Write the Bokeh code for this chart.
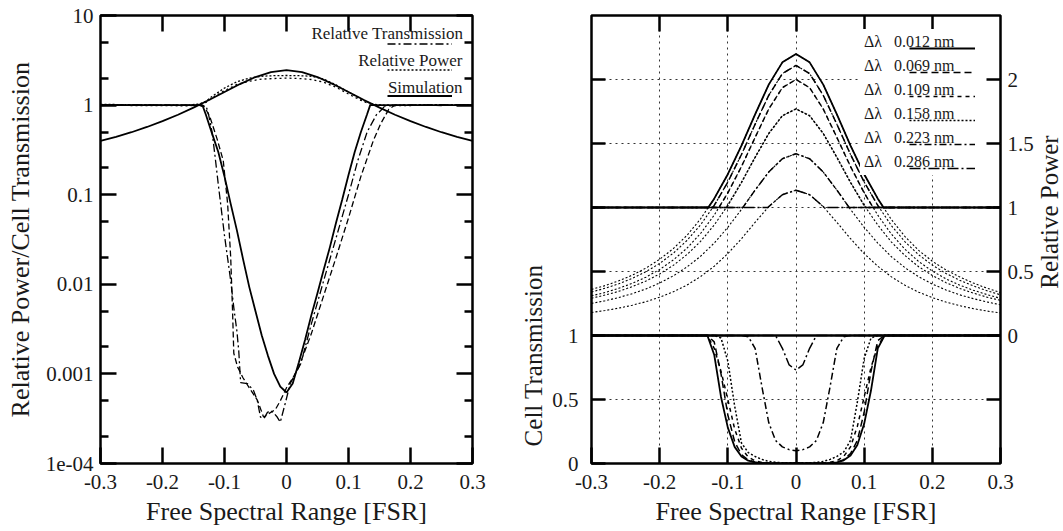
import math
from bokeh.plotting import figure
from bokeh.models import (FixedTicker, LinearAxis, LogAxis, Legend, Label, Span, Range1d,
                          CustomJSTickFormatter)
from bokeh.layouts import row
from bokeh.embed import file_html
from bokeh.resources import INLINE

FONT = "Liberation Serif"
TXT = "#1a1a1a"

# ---------------- data: left panel (log scale) ----------------
x_ticks = [-0.3, -0.2, -0.1, 0, 0.1, 0.2, 0.3]
x_tick_labels = ["-0.3", "-0.2", "-0.1", "0", "0.1", "0.2", "0.3"]
x_inner_ticks = [-0.2, -0.1, 0, 0.1, 0.2]
left_y_ticks = [1e-4, 1e-3, 1e-2, 1e-1, 1, 10]
left_y_tick_labels = ["1e-04", "0.001", "0.01", "0.1", "1", "10"]
left_y_minor = [2e-4, 5e-4, 2e-3, 5e-3, 2e-2, 5e-2, 0.2, 0.5, 2, 5]
left_legend_labels = ["Relative Transmission", "Relative Power", "Simulation"]

x_sim = [-0.3, -0.275, -0.25, -0.225, -0.2, -0.175, -0.15, -0.125, -0.1, -0.075, -0.05, -0.025, 0,
         0.025, 0.05, 0.075, 0.1, 0.125, 0.15, 0.175, 0.2, 0.225, 0.25, 0.275, 0.3]
sim_power = [0.40, 0.443, 0.498, 0.570, 0.663, 0.781, 0.937, 1.141, 1.402, 1.717, 2.056, 2.337, 2.45,
             2.337, 2.056, 1.717, 1.402, 1.141, 0.937, 0.781, 0.663, 0.570, 0.498, 0.443, 0.40]

x_sim_t = [-0.3, -0.2, -0.14, -0.135, -0.13, -0.12, -0.11, -0.1, -0.09, -0.08, -0.07, -0.06, -0.05,
           -0.04, -0.03, -0.02, -0.01, 0, 0.01, 0.02, 0.03, 0.04, 0.05, 0.06, 0.07, 0.08, 0.09, 0.1,
           0.11, 0.12, 0.13, 0.135, 0.14, 0.2, 0.3]
sim_trans = [1, 1, 1, 0.97, 0.78, 0.48, 0.30, 0.16, 0.079, 0.040, 0.019, 0.0093, 0.0050,
             0.0027, 0.0016, 0.0010, 0.00072, 0.00062, 0.00078, 0.00135, 0.0024, 0.0045, 0.0080, 0.0145, 0.026, 0.049, 0.089, 0.166,
             0.30, 0.50, 0.79, 1.0, 1, 1, 1]

x_meas_tA = [-0.3, -0.25, -0.2, -0.16, -0.14, -0.13, -0.127, -0.12, -0.115, -0.11, -0.1, -0.09, -0.085,
             -0.08, -0.077, -0.074, -0.063, -0.053, -0.047, -0.042, -0.036, -0.031, -0.026, -0.021,
             -0.015, -0.01, -0.002, 0.006, 0.023, 0.04, 0.06, 0.08, 0.1, 0.115, 0.13, 0.145, 0.152,
             0.16, 0.2, 0.25, 0.3]
meas_tA = [1.0, 1.01, 1.0, 1.0, 1.0, 0.97, 0.87, 0.5, 0.26, 0.13, 0.035, 0.011, 0.0055,
           0.003, 0.0018, 0.0008, 0.00078, 0.00065, 0.0005, 0.00033, 0.00032, 0.00037, 0.00039, 0.00037,
           0.00033, 0.00029, 0.00047, 0.00078, 0.0013, 0.0036, 0.011, 0.033, 0.1, 0.24, 0.5, 0.78, 0.87,
           1.0, 1.0, 1.01, 1.0]

x_meas_tB = [-0.3, -0.25, -0.2, -0.15, -0.135, -0.13, -0.123, -0.112, -0.102, -0.095, -0.09, -0.087,
             -0.085, -0.079, -0.07, -0.06, -0.047, -0.037, -0.03, -0.026, -0.018, -0.01, 0, 0.01, 0.02,
             0.04, 0.06, 0.08, 0.1, 0.12, 0.14, 0.152, 0.165, 0.175, 0.2, 0.25, 0.3]
meas_tB = [0.99, 1.0, 1.0, 0.99, 1.0, 0.9, 0.72, 0.42, 0.24, 0.08, 0.02, 0.005,
           0.0017, 0.0012, 0.0009, 0.0007, 0.00051, 0.00033, 0.00035, 0.00037, 0.0004, 0.0005, 0.0007, 0.0009, 0.0012,
           0.0028, 0.0075, 0.02, 0.055, 0.16, 0.4, 0.62, 0.9, 1.0, 1.0, 0.99, 1.0]

x_meas_p = [-0.3, -0.25, -0.2, -0.16, -0.14, -0.13, -0.12, -0.1, -0.08, -0.06, -0.04, -0.02, 0,
            0.02, 0.04, 0.06, 0.08, 0.1, 0.12, 0.13, 0.14, 0.16, 0.2, 0.25, 0.3]
meas_pA = [1.02, 1.01, 1.0, 1.0, 1.03, 1.1, 1.25, 1.55, 1.82, 2.0, 2.1, 2.13, 2.14,
           2.13, 2.1, 1.95, 1.68, 1.4, 1.17, 1.08, 1.02, 0.99, 1.0, 1.01, 1.0]
meas_pB = [1.0, 0.99, 0.99, 0.98, 1.01, 1.07, 1.2, 1.45, 1.7, 1.85, 1.95, 1.98, 2.0,
           1.98, 1.93, 1.8, 1.58, 1.33, 1.13, 1.06, 1.01, 0.98, 0.99, 1.0, 1.0]

# ---------------- data: right panel ----------------
dl_values = ["0.012", "0.069", "0.109", "0.158", "0.223", "0.286"]
power_ticks = [0, 0.5, 1, 1.5, 2]
power_tick_labels = ["0", "0.5", "1", "1.5", "2"]
trans_ticks = [0, 0.5, 1]
trans_tick_labels = ["0", "0.5", "1"]

x_pow = [-0.3, -0.28, -0.26, -0.24, -0.22, -0.2, -0.18, -0.16, -0.14, -0.12, -0.1, -0.08, -0.06, -0.04,
         -0.02, 0, 0.02, 0.04, 0.06, 0.08, 0.1, 0.12, 0.14, 0.16, 0.18, 0.2, 0.22, 0.24, 0.26, 0.28, 0.3]
pow_012 = [0.360, 0.390, 0.427, 0.472, 0.527, 0.595, 0.679, 0.782, 0.911, 1.069, 1.260, 1.483, 1.727, 1.960, 2.134,
           2.200,
           2.134, 1.960, 1.727, 1.483, 1.260, 1.069, 0.905, 0.772, 0.665, 0.580, 0.512, 0.458, 0.410, 0.370, 0.335]
pow_069 = [0.340, 0.369, 0.404, 0.447, 0.499, 0.563, 0.643, 0.742, 0.864, 1.016, 1.199, 1.414, 1.650, 1.876, 2.046,
           2.110,
           2.046, 1.876, 1.650, 1.414, 1.199, 1.016, 0.858, 0.732, 0.630, 0.550, 0.485, 0.432, 0.388, 0.350, 0.318]
pow_109 = [0.310, 0.336, 0.369, 0.408, 0.456, 0.516, 0.590, 0.682, 0.797, 0.940, 1.114, 1.320, 1.547, 1.769, 1.936,
           2.000,
           1.936, 1.769, 1.547, 1.320, 1.114, 0.940, 0.792, 0.673, 0.578, 0.503, 0.442, 0.394, 0.354, 0.320, 0.290]
pow_158 = [0.291, 0.316, 0.345, 0.382, 0.426, 0.481, 0.548, 0.632, 0.735, 0.863, 1.017, 1.196, 1.391, 1.578, 1.717,
           1.770,
           1.717, 1.578, 1.391, 1.196, 1.017, 0.863, 0.730, 0.624, 0.537, 0.469, 0.413, 0.368, 0.331, 0.300, 0.274]
pow_223 = [0.251, 0.271, 0.297, 0.327, 0.364, 0.410, 0.466, 0.535, 0.619, 0.722, 0.845, 0.985, 1.136, 1.277, 1.381,
           1.420,
           1.381, 1.277, 1.136, 0.985, 0.845, 0.722, 0.615, 0.529, 0.459, 0.402, 0.356, 0.318, 0.288, 0.262, 0.240]
pow_286 = [0.180, 0.195, 0.214, 0.237, 0.264, 0.299, 0.341, 0.394, 0.460, 0.541, 0.640, 0.756, 0.884, 1.007, 1.100,
           1.135,
           1.100, 1.007, 0.884, 0.756, 0.640, 0.541, 0.458, 0.392, 0.338, 0.296, 0.261, 0.233, 0.210, 0.191, 0.176]

x_cell = [-0.3, -0.15, -0.14, -0.13, -0.12, -0.11, -0.1, -0.09, -0.08, -0.07, -0.06, -0.05, -0.04, -0.03,
          -0.02, -0.01, 0, 0.01, 0.02, 0.03, 0.04, 0.05, 0.06, 0.07, 0.08, 0.09, 0.1, 0.11, 0.12, 0.13,
          0.14, 0.15, 0.3]
cell_012 = [1, 1, 1, 1, 0.85, 0.52, 0.28, 0.13, 0.055, 0.022, 0.008, 0.003, 0.001, 0, 0, 0, 0,
            0, 0, 0, 0.001, 0.003, 0.009, 0.025, 0.062, 0.145, 0.31, 0.57, 0.9, 1, 1, 1, 1]
cell_069 = [1, 1, 1, 1, 0.95, 0.7, 0.38, 0.17, 0.07, 0.027, 0.01, 0.0035, 0.001, 0, 0, 0, 0,
            0, 0, 0, 0.001, 0.004, 0.011, 0.03, 0.078, 0.18, 0.4, 0.72, 0.96, 1, 1, 1, 1]
cell_109 = [1, 1, 1, 1, 0.9, 0.72, 0.5, 0.27, 0.12, 0.05, 0.02, 0.008, 0.004, 0.003, 0.002, 0.002, 0.002,
            0.002, 0.002, 0.003, 0.004, 0.009, 0.022, 0.055, 0.13, 0.29, 0.52, 0.75, 0.92, 1, 1, 1, 1]
cell_158 = [1, 1, 1, 1, 1, 0.98, 0.8, 0.45, 0.16, 0.085, 0.055, 0.032, 0.016, 0.009, 0.006, 0.005, 0.005,
            0.005, 0.006, 0.009, 0.016, 0.032, 0.055, 0.09, 0.18, 0.48, 0.82, 0.98, 1, 1, 1, 1, 1]
cell_223 = [1, 1, 1, 1, 1, 1, 1, 1, 1, 0.99, 0.9, 0.6, 0.32, 0.18, 0.13, 0.108, 0.1,
            0.108, 0.13, 0.18, 0.32, 0.6, 0.9, 0.99, 1, 1, 1, 1, 1, 1, 1, 1, 1]
cell_286 = [1, 1, 1, 1, 1, 1, 1, 1, 1, 1, 1, 1, 1, 1, 0.9, 0.77, 0.73,
            0.77, 0.9, 1, 1, 1, 1, 1, 1, 1, 1, 1, 1, 1, 1, 1, 1]

power_curves = [pow_012, pow_069, pow_109, pow_158, pow_223, pow_286]
cell_curves = [cell_012, cell_069, cell_109, cell_158, cell_223, cell_286]

# ---------------- styles ----------------
dl_dash = ["solid", "7 4", "4 4", "2 2", "7 3 2 3", "11 3 2 3"]
dl_width = [1.8, 1.5, 1.5, 1.5, 1.5, 1.5]
NBSP = "\u00a0"
left_legend_pad = [0, 11, 18]   # no-break spaces that right-align the key texts


def tick_formatter(vals, labs):
    return CustomJSTickFormatter(args=dict(vals=vals, labs=labs), code="""
        for (let i = 0; i < vals.length; i++) {
            if (Math.abs(vals[i] - tick) <= 1e-9 + 1e-6 * Math.abs(vals[i])) { return labs[i]; }
        }
        return "";
    """)


def style_axis(ax, tick_len=16, label_size="21px", standoff=8):
    ax.axis_line_color = None
    ax.major_tick_in = tick_len
    ax.major_tick_out = 0
    ax.minor_tick_in = 8
    ax.minor_tick_out = 0
    ax.major_tick_line_width = 2.5
    ax.minor_tick_line_width = 2.5
    ax.major_tick_line_color = "black"
    ax.minor_tick_line_color = "black"
    ax.major_label_text_font = FONT
    ax.major_label_text_font_size = label_size
    ax.major_label_text_color = TXT
    ax.major_label_standoff = standoff
    ax.axis_label_text_font = FONT
    ax.axis_label_text_font_size = "26px"
    ax.axis_label_text_font_style = "normal"
    ax.axis_label_text_color = TXT


def hidden_axis(cls, ticks, minor=None, tick_len=16):
    ax = cls(ticker=FixedTicker(ticks=ticks, minor_ticks=minor or []))
    style_axis(ax, tick_len=tick_len, label_size="0px", standoff=0)
    ax.formatter = tick_formatter([], [])
    return ax


def clip_above_one(xs, ys):
    ox, oy = [], []
    for i in range(len(xs)):
        if i > 0 and (ys[i - 1] - 1) * (ys[i] - 1) < 0:
            t = (1 - ys[i - 1]) / (ys[i] - ys[i - 1])
            ox.append(xs[i - 1] + t * (xs[i] - xs[i - 1]))
            oy.append(1.0)
        ox.append(xs[i])
        oy.append(max(ys[i], 1.0))
    return ox, oy


def title_strip(width, text, x, y):
    s = figure(width=width, height=531, x_range=Range1d(0, width), y_range=Range1d(0, 531),
               output_backend="svg", toolbar_location=None, min_border=0,
               x_axis_location=None, y_axis_location=None)
    s.grid.visible = False
    s.outline_line_color = None
    s.add_layout(Label(x=x, y=y, text=text, angle=math.pi / 2, text_align="center",
                       text_baseline="middle", text_font=FONT, text_font_size="25px",
                       text_color=TXT))
    return s


# ================= left figure =================
p1 = figure(width=505, height=531, x_range=(-0.3, 0.3), y_range=(1e-4, 10), y_axis_type="log",
            output_backend="svg", toolbar_location=None,
            min_border_left=100, min_border_right=33, min_border_top=15, min_border_bottom=68)
p1.outline_line_color = "black"
p1.outline_line_width = 2.5
p1.grid.visible = False

xa = p1.below[0]
xa.ticker = FixedTicker(ticks=x_ticks)
xa.formatter = tick_formatter(x_ticks, x_tick_labels)
style_axis(xa, standoff=11)
xa.axis_label = "Free Spectral Range [FSR]"
xa.axis_label_standoff = 5

ya = p1.left[0]
ya.ticker = FixedTicker(ticks=left_y_ticks, minor_ticks=left_y_minor)
ya.formatter = tick_formatter(left_y_ticks, left_y_tick_labels)
style_axis(ya, standoff=7)
ya.axis_label = "Relative Power/Cell Transmission"
ya.axis_label_standoff = 8

p1.add_layout(hidden_axis(LinearAxis, x_inner_ticks), "above")
p1.add_layout(hidden_axis(LogAxis, left_y_ticks, left_y_minor), "right")

r_sim_p = p1.line(x_sim, sim_power, line_color="black", line_width=1.8)
r_sim_t = p1.line(x_sim_t, sim_trans, line_color="black", line_width=1.8)
r_tA = p1.line(x_meas_tA, meas_tA, line_color="black", line_width=1.3, line_dash="8 3 2 3")
r_tB = p1.line(x_meas_tB, meas_tB, line_color="black", line_width=1.3, line_dash="6 3")
r_pA = p1.line(x_meas_p, meas_pA, line_color="black", line_width=1.3, line_dash="2 2")
r_pB = p1.line(x_meas_p, meas_pB, line_color="black", line_width=1.3, line_dash="2 3")

left_key_renderers = [r_tA, r_pA, r_sim_p]
legA = Legend(items=[(NBSP * n + lab, [r]) for n, lab, r in
                     zip(left_legend_pad, left_legend_labels, left_key_renderers)],
              location="top_right", margin=4, padding=5, spacing=7, glyph_width=0, glyph_height=19,
              label_height=19, label_standoff=0, label_text_font=FONT, label_text_font_size="17px",
              label_text_color=TXT, background_fill_alpha=0, border_line_alpha=0)
legB = Legend(items=[(" ", [r]) for r in left_key_renderers],
              location="top_right", margin=13, padding=6, spacing=7, glyph_width=65, glyph_height=19,
              label_height=19, label_width=1, label_standoff=0, label_text_font=FONT,
              label_text_font_size="17px", background_fill_alpha=0, border_line_alpha=0)
p1.add_layout(legA)
p1.add_layout(legB)

# ================= strip with the "Cell Transmission" title =================
pL = title_strip(44, "Cell Transmission", 28, 128)

# ================= right figure =================
p2 = figure(width=487, height=531, x_range=(-0.3, 0.3), y_range=(-1, 2.5),
            output_backend="svg", toolbar_location=None,
            min_border_left=42, min_border_right=34, min_border_top=15, min_border_bottom=68)
p2.outline_line_color = "black"
p2.outline_line_width = 2.5

p2.xgrid.ticker = FixedTicker(ticks=x_inner_ticks)
p2.ygrid.ticker = FixedTicker(ticks=[-0.5, 0.5, 1, 1.5, 2])
p2.grid.grid_line_color = "#333333"
p2.grid.grid_line_dash = "2 4"
p2.grid.grid_line_width = 1

xb = p2.below[0]
xb.ticker = FixedTicker(ticks=x_ticks)
xb.formatter = tick_formatter(x_ticks, x_tick_labels)
style_axis(xb, standoff=11)
xb.axis_label = "Free Spectral Range [FSR]"
xb.axis_label_standoff = 5

trans_pos = [t - 1 for t in trans_ticks]
yl = p2.left[0]
yl.ticker = FixedTicker(ticks=trans_pos + [v for v in power_ticks if v > 0])
yl.formatter = tick_formatter(trans_pos, trans_tick_labels)
style_axis(yl, tick_len=14, standoff=13)

yr = LinearAxis(ticker=FixedTicker(ticks=[-0.5] + power_ticks))
yr.formatter = tick_formatter(power_ticks, power_tick_labels)
style_axis(yr, tick_len=14, standoff=7)
p2.add_layout(yr, "right")
p2.add_layout(hidden_axis(LinearAxis, x_inner_ticks), "above")

for pc in power_curves:
    p2.line(x_pow, pc, line_color="black", line_width=1.1, line_dash="2 2")

styled = []
for i, pc in enumerate(power_curves):
    sx, sy = clip_above_one(x_pow, pc)
    r = p2.line(sx, sy, line_color="black", line_width=dl_width[i], line_dash=dl_dash[i])
    p2.line(x_cell, [t - 1 for t in cell_curves[i]], line_color="black",
            line_width=dl_width[i], line_dash=dl_dash[i])
    styled.append(r)

p2.add_layout(Span(location=0, dimension="width", line_color="black", line_width=2.5))

legA2 = Legend(items=[("\u0394\u03bb\u2002 " + v + " nm", [r]) for v, r in zip(dl_values, styled)],
               location="top_right", margin=14, padding=4, spacing=6, glyph_width=0, glyph_height=18,
               label_height=18, label_width=118, label_standoff=0, label_text_font=FONT,
               label_text_font_size="16px", label_text_color=TXT,
               background_fill_color="white", background_fill_alpha=1, border_line_alpha=0)
legB2 = Legend(items=[(" ", [r]) for r in styled],
               location="top_right", margin=20, padding=4, spacing=6, glyph_width=66, glyph_height=18,
               label_height=18, label_width=1, label_standoff=0, label_text_font=FONT,
               label_text_font_size="16px", background_fill_alpha=0, border_line_alpha=0)
p2.add_layout(legA2)
p2.add_layout(legB2)

# ================= strip with the "Relative Power" title =================
pR = title_strip(27, "Relative Power", 13, 298)

layout = row(p1, pL, p2, pR)
open("out.html", "w").write(file_html(layout, INLINE))
